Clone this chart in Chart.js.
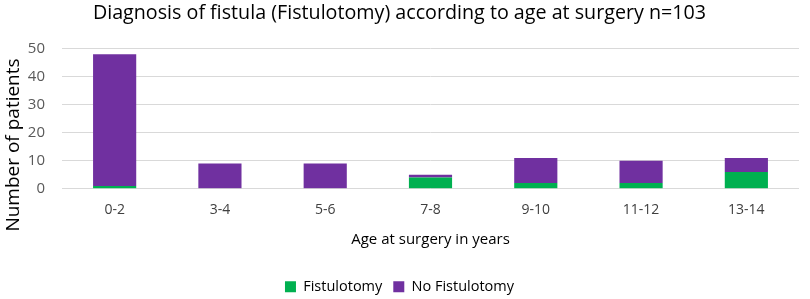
<!DOCTYPE html>
<html>
<head>
<meta charset="utf-8">
<script src="https://cdn.jsdelivr.net/npm/chart.js@4"></script>
<style>
  html, body { margin: 0; padding: 0; background: #fff; }
  #wrap { width: 810px; height: 299px; }
</style>
</head>
<body>
<div id="wrap"><canvas id="chart"></canvas></div>
<script>
// age groups and counts
var ageGroups = ['0-2', '3-4', '5-6', '7-8', '9-10', '11-12', '13-14'];
var fistulotomy = [1, 0, 0, 4, 2, 2, 6];
var noFistulotomy = [47, 9, 9, 1, 9, 8, 5];
var yTicks = [0, 10, 20, 30, 40, 50];

var font = "'Open Sans', 'Liberation Sans', sans-serif";
var yTitle = 'Number of patients';

// the y title in the original sits lower than the plot centre,
// so the y axis keeps room for it and this draws the text
var yTitlePlugin = {
    id: 'yTitle',
    afterDraw: function (chart) {
        var ctx = chart.ctx;
        ctx.save();
        ctx.translate(14, 145);
        ctx.rotate(-Math.PI / 2);
        ctx.font = '19px ' + font;
        ctx.fillStyle = '#000';
        ctx.textAlign = 'center';
        ctx.textBaseline = 'middle';
        ctx.fillText(yTitle, 0, 0);
        ctx.restore();
    }
};

new Chart(document.getElementById('chart'), {
    type: 'bar',
    data: {
        labels: ageGroups,
        datasets: [{
            label: 'Fistulotomy',
            data: fistulotomy,
            backgroundColor: '#00b050',
            categoryPercentage: 1,
            barPercentage: 0.41
        }, {
            label: 'No Fistulotomy',
            data: noFistulotomy,
            backgroundColor: '#7030a0',
            categoryPercentage: 1,
            barPercentage: 0.41
        }]
    },
    options: {
        responsive: true,
        maintainAspectRatio: false,
        animation: false,
        layout: { padding: { left: 0, right: 11, top: 2, bottom: -5 } },
        plugins: {
            title: {
                display: true,
                text: 'Diagnosis of fistula (Fistulotomy) according to age at surgery n=103',
                color: '#000',
                font: { family: font, size: 19.7, weight: 'normal' },
                padding: { top: 0, bottom: 23 }
            },
            legend: {
                position: 'bottom',
                labels: {
                    color: '#000',
                    font: { family: font, size: 14.5 },
                    boxWidth: 11,
                    boxHeight: 11,
                    padding: 11
                }
            },
            tooltip: { enabled: false }
        },
        scales: {
            x: {
                stacked: true,
                grid: { display: false },
                border: { display: false },
                ticks: { color: '#404040', font: { family: font, size: 14 }, padding: 5 },
                title: {
                    display: true,
                    text: 'Age at surgery in years',
                    color: '#000',
                    font: { family: font, size: 15 },
                    padding: { top: 7, bottom: 20 }
                }
            },
            y: {
                stacked: true,
                min: yTicks[0],
                max: yTicks[yTicks.length - 1],
                afterFit: function (axis) { axis.width = 62; },
                ticks: {
                    stepSize: 10,
                    color: '#595959',
                    font: { family: font, size: 15 },
                    padding: 17
                },
                grid: { color: '#d9d9d9', drawTicks: false },
                border: { display: false }
            }
        }
    },
    plugins: [yTitlePlugin]
});
</script>
</body>
</html>
